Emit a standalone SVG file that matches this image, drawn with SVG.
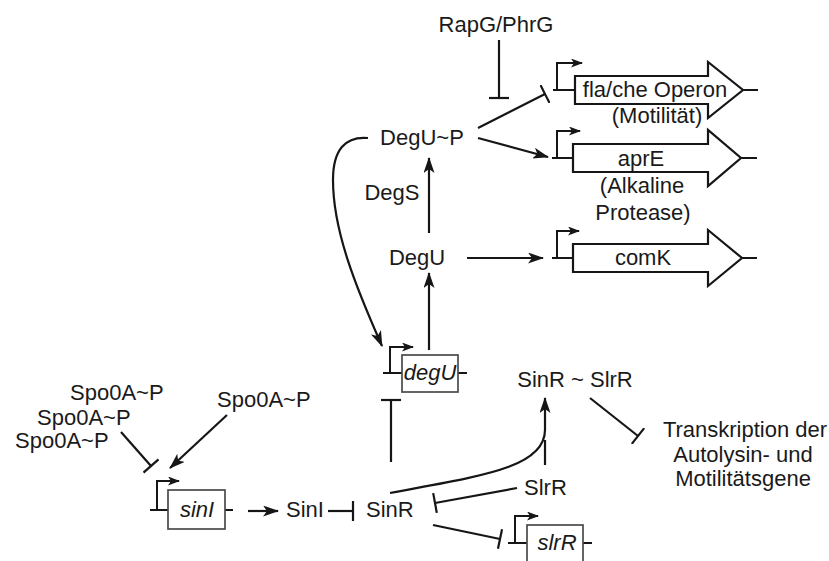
<svg xmlns="http://www.w3.org/2000/svg" width="829" height="561" viewBox="0 0 829 561">
  <style>
    text { font-family: "Liberation Sans", Arial, sans-serif; font-size: 22px; fill: #1a1a1a; }
    .mid { text-anchor: middle; }
    .gene { font-style: italic; }
    .link { fill: none; stroke: #161616; stroke-width: 2.2; }
    .act { marker-end: url(#arrow); }
    .inh { marker-end: url(#bar); }
    .prom { fill: none; stroke: #161616; stroke-width: 2; marker-end: url(#promArrow); }
    .wire { fill: none; stroke: #161616; stroke-width: 2; }
    .operon { fill: #fff; stroke: #161616; stroke-width: 2.2; stroke-linejoin: miter; }
    .box { fill: #fff; stroke: #4a4a4a; stroke-width: 1.7; }
  </style>
  <defs>
    <marker id="arrow" viewBox="0 0 16 11" refX="15" refY="5.5" markerWidth="16" markerHeight="11" markerUnits="userSpaceOnUse" orient="auto">
      <path d="M0,0 L16,5.5 L0,11 L4,5.5 z" fill="#161616"/>
    </marker>
    <marker id="promArrow" viewBox="0 0 12 9" refX="11" refY="4.5" markerWidth="12" markerHeight="9" markerUnits="userSpaceOnUse" orient="auto">
      <path d="M0,0 L12,4.5 L0,9 L3,4.5 z" fill="#161616"/>
    </marker>
    <marker id="bar" viewBox="0 0 4 20" refX="2" refY="10" markerWidth="4" markerHeight="20" markerUnits="userSpaceOnUse" orient="auto">
      <path d="M2,0 V20" stroke="#161616" stroke-width="2.2"/>
    </marker>
  </defs>

  <!-- regulators and proteins -->
  <g id="rapg-phrg"><text class="mid" x="496" y="32">RapG/PhrG</text></g>
  <g id="degu-p"><text class="mid" x="422" y="145">DegU~P</text></g>
  <g id="degs"><text class="mid" x="392" y="200">DegS</text></g>
  <g id="degu"><text class="mid" x="417" y="265">DegU</text></g>
  <g id="sinr-slrr"><text class="mid" x="575" y="387">SinR ~ SlrR</text></g>
  <g id="spo0a-stack">
    <text x="70" y="400">Spo0A~P</text>
    <text x="37" y="425">Spo0A~P</text>
    <text x="15" y="448">Spo0A~P</text>
  </g>
  <g id="spo0a-right"><text x="217" y="407">Spo0A~P</text></g>
  <g id="sini-protein"><text x="286" y="517">SinI</text></g>
  <g id="sinr"><text x="366" y="517">SinR</text></g>
  <g id="slrr-protein"><text x="524" y="495">SlrR</text></g>
  <g id="transcription-target">
    <text class="mid" x="745" y="437">Transkription der</text>
    <text class="mid" x="743" y="462">Autolysin- und</text>
    <text class="mid" x="743" y="486">Motilitätsgene</text>
  </g>

  <!-- operons drawn as block arrows with promoters -->
  <g id="flache-operon">
    <path class="wire" d="M553,90 H575 M743,90 H758"/>
    <path class="prom" d="M557,90 V63 H582"/>
    <polygon class="operon" points="575,76 708,76 708,62 743,90 708,118 708,104 575,104"/>
    <text class="mid" x="655" y="97">fla/che Operon</text>
    <text class="mid" x="657" y="123">(Motilität)</text>
  </g>
  <g id="apre-operon">
    <path class="wire" d="M552,158 H573 M741,158 H757"/>
    <path class="prom" d="M557,158 V131 H580"/>
    <polygon class="operon" points="573,144 708,144 708,130 741,158 708,186 708,172 573,172"/>
    <text class="mid" x="641" y="166">aprE</text>
    <text class="mid" x="642" y="193">(Alkaline</text>
    <text class="mid" x="643" y="220">Protease)</text>
  </g>
  <g id="comk-operon">
    <path class="wire" d="M552,258 H573 M742,258 H757"/>
    <path class="prom" d="M557,258 V231 H579"/>
    <polygon class="operon" points="573,244 708,244 708,230 742,258 708,286 708,272 573,272"/>
    <text class="mid" x="643" y="265">comK</text>
  </g>

  <!-- genes drawn as boxes with promoters -->
  <g id="degu-gene">
    <path class="wire" d="M383,373 H402 M458,373 H467"/>
    <path class="prom" d="M390,373 V347 H413"/>
    <rect class="box" x="402" y="355" width="56" height="37"/>
    <text class="mid gene" x="430" y="380">degU</text>
  </g>
  <g id="sini-gene">
    <path class="wire" d="M150,510 H168 M225,510 H233"/>
    <path class="prom" d="M157,510 V481 H179"/>
    <rect class="box" x="168" y="490" width="57" height="39"/>
    <text class="mid gene" x="197" y="517">sinI</text>
  </g>
  <g id="slrr-gene">
    <path class="wire" d="M508,543 H527 M583,543 H592"/>
    <path class="prom" d="M515,543 V516 H538"/>
    <rect class="box" x="527" y="525" width="56" height="42"/>
    <text class="mid gene" x="557" y="550">slrR</text>
  </g>

  <!-- connectors -->
  <g id="connectors">
    <path class="link inh" d="M499,40 V98"/>
    <path class="link inh" d="M478,128 L545,94"/>
    <path class="link act" d="M478,138 L548,157"/>
    <path class="link act" d="M429,233 V158"/>
    <path class="link act" d="M429,350 V273"/>
    <path class="link act" d="M467,258 H543"/>
    <path class="link act" d="M368,138 C345,136 333,150 333,180 C333,230 355,285 382,346"/>
    <path class="link inh" d="M391,462 V400"/>
    <path class="link inh" d="M121,432 L151,466"/>
    <path class="link act" d="M227,415 L170,468"/>
    <path class="link act" d="M248,511 H278"/>
    <path class="link inh" d="M328,511 H353"/>
    <path class="link act" d="M390,493 C480,476 545,468 545,430 V398"/>
    <path class="link" d="M545,465 V440"/>
    <path class="link inh" d="M590,398 L638,436"/>
    <path class="link inh" d="M517,488 L435,503"/>
    <path class="link inh" d="M433,525 L500,539"/>
  </g>
</svg>
